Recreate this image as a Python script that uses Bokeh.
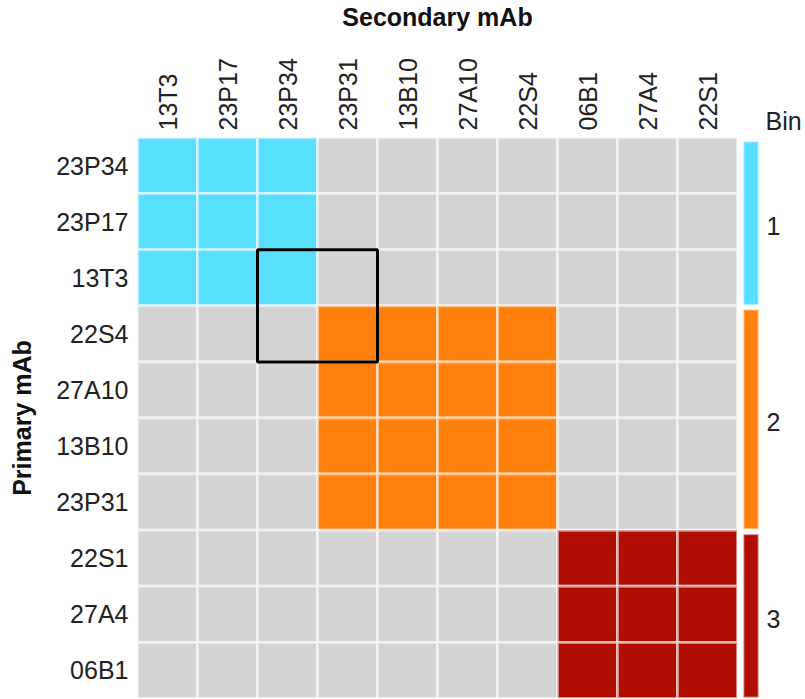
import numpy as np
from bokeh.plotting import figure
from bokeh.layouts import row
from bokeh.models import FixedTicker, Range1d, ColumnDataSource
from bokeh.core.properties import value
from bokeh.embed import file_html
from bokeh.resources import INLINE

# ---- data ----
secondary = ["13T3", "23P17", "23P34", "23P31", "13B10", "27A10", "22S4", "06B1", "27A4", "22S1"]
primary = ["23P34", "23P17", "13T3", "22S4", "27A10", "13B10", "23P31", "22S1", "27A4", "06B1"]
# shared bin of each cell (0 = not in the same bin); rows = primary (top to bottom), cols = secondary
cells = [
    [1, 1, 1, 0, 0, 0, 0, 0, 0, 0],
    [1, 1, 1, 0, 0, 0, 0, 0, 0, 0],
    [1, 1, 1, 0, 0, 0, 0, 0, 0, 0],
    [0, 0, 0, 2, 2, 2, 2, 0, 0, 0],
    [0, 0, 0, 2, 2, 2, 2, 0, 0, 0],
    [0, 0, 0, 2, 2, 2, 2, 0, 0, 0],
    [0, 0, 0, 2, 2, 2, 2, 0, 0, 0],
    [0, 0, 0, 0, 0, 0, 0, 3, 3, 3],
    [0, 0, 0, 0, 0, 0, 0, 3, 3, 3],
    [0, 0, 0, 0, 0, 0, 0, 3, 3, 3],
]
bin_labels = ["1", "2", "3"]
primary_bin = [1, 1, 1, 2, 2, 2, 2, 3, 3, 3]
highlight_x = ["23P34", "23P31"]
highlight_y = ["13T3", "22S4"]

# ---- style ----
colors = {0: "#d4d4d4", 1: "#57dffd", 2: "#ff7f0e", 3: "#b00e00"}
FONT = "Liberation Sans"
TXT = "#222222"
H = 698

n_r = len(primary)
n_c = len(secondary)

xs, ys, fills = [], [], []
for i, pname in enumerate(primary):
    for j, sname in enumerate(secondary):
        xs.append(j)
        ys.append(n_r - 1 - i)
        fills.append(colors[cells[i][j]])
src = ColumnDataSource(dict(x=xs, y=ys, fill=fills))

yr = Range1d(-0.5, n_r - 0.5)
p = figure(width=737, height=H, x_range=Range1d(-0.5, n_c - 0.5), y_range=yr,
           x_axis_location="above", y_axis_location="left",
           toolbar_location=None, output_backend="svg",
           min_border_left=137, min_border_right=0, min_border_top=136, min_border_bottom=0)
p.grid.visible = False
p.outline_line_color = None
p.background_fill_color = "white"
p.border_fill_color = "white"

p.rect(x="x", y="y", width=1, height=1, source=src, fill_color="fill",
       line_color="white", line_alpha=0.5, line_width=3)

# highlight box
hx0 = secondary.index(highlight_x[0]) - 0.5
hx1 = secondary.index(highlight_x[1]) + 0.5
hy_top = n_r - 1 - primary.index(highlight_y[0]) + 0.5
hy_bot = n_r - 1 - primary.index(highlight_y[1]) - 0.5
p.quad(left=[hx0], right=[hx1], bottom=[hy_bot], top=[hy_top],
       fill_color=None, line_color="black", line_width=3)

# axes
xa = p.xaxis[0]
xa.ticker = FixedTicker(ticks=list(range(n_c)))
xa.major_label_overrides = {j: s for j, s in enumerate(secondary)}
xa.major_label_orientation = np.pi / 2
xa.axis_label = "Secondary mAb"
ya = p.yaxis[0]
ya.ticker = FixedTicker(ticks=list(range(n_r)))
ya.major_label_overrides = {n_r - 1 - i: s for i, s in enumerate(primary)}
ya.axis_label = "Primary mAb"
for ax, fs, st, lst in ((xa, "25px", 7, 24), (ya, "25px", 9, 17)):
    ax.axis_line_color = None
    ax.major_tick_line_color = None
    ax.minor_tick_line_color = None
    ax.major_tick_out = 0
    ax.major_tick_in = 0
    ax.major_label_standoff = st
    ax.major_label_text_font = FONT
    ax.major_label_text_font_size = fs
    ax.major_label_text_color = TXT
    ax.axis_label_text_font = FONT
    ax.axis_label_text_font_size = "25px"
    ax.axis_label_text_font_style = "bold"
    ax.axis_label_text_color = "#111111"
    ax.axis_label_standoff = lst

# ---- bin legend bar ----
QW = 68
q = figure(width=QW, height=H, x_range=Range1d(0, QW), y_range=yr,
           x_axis_location=None, y_axis_location=None,
           toolbar_location=None, output_backend="svg",
           min_border_left=0, min_border_right=0, min_border_top=136, min_border_bottom=0)
q.grid.visible = False
q.outline_line_color = None
q.title.text = "Bin"
q.title.align = "left"
q.title.offset = 28
q.title.standoff = 6
q.title.text_font = FONT
q.title.text_font_size = "25px"
q.title.text_font_style = "normal"
q.title.text_color = TXT

tops, bots, bcols, mids = [], [], [], []
for k, lab in enumerate(bin_labels):
    b = k + 1
    rows_in = [i for i, pb in enumerate(primary_bin) if pb == b]
    top = n_r - 1 - min(rows_in) + 0.5
    bot = n_r - 1 - max(rows_in) - 0.5
    tops.append(top - 0.07)
    bots.append(bot + 0.02)
    bcols.append(colors[b])
    mids.append((top + bot) / 2 - 0.08)
q.quad(left=6, right=21, top=tops, bottom=bots, fill_color=bcols,
       line_color="white", line_alpha=0.4, line_width=2)
q.text(x=[36] * len(bin_labels), y=mids, text=bin_labels,
       text_align="center", text_baseline="middle",
       text_font=value(FONT), text_font_size="25px", text_color=TXT)

layout = row(p, q)
open("out.html", "w").write(file_html(layout, INLINE))
